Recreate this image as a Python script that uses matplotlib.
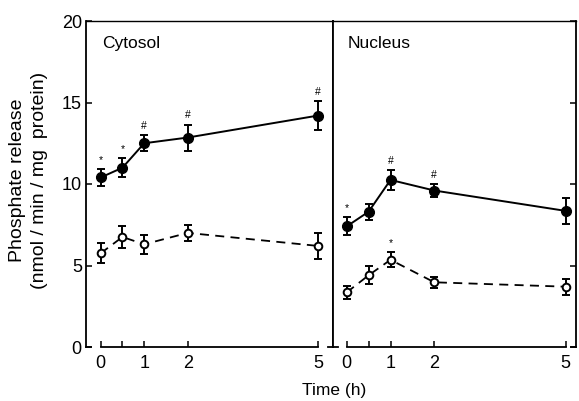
import matplotlib
matplotlib.use("Agg")
import matplotlib.pyplot as plt
from matplotlib.lines import Line2D

plt.rcParams['font.family'] = ['Liberation Sans', 'DejaVu Sans']

time_h = [0, 0.5, 1, 2, 5]
xtick_vals = [0, 0.5, 1, 2, 5]
xtick_labels = ["0", "", "1", "2", "5"]
ytick_vals = [0, 5, 10, 15, 20]

cyto_filled = [10.4, 11.0, 12.5, 12.85, 14.2]
cyto_filled_err = [0.5, 0.6, 0.5, 0.8, 0.9]
cyto_open = [5.75, 6.75, 6.3, 7.0, 6.2]
cyto_open_err = [0.6, 0.7, 0.6, 0.5, 0.8]

nuc_filled = [7.4, 8.3, 10.25, 9.6, 8.35]
nuc_filled_err = [0.55, 0.5, 0.6, 0.4, 0.8]
nuc_open = [3.35, 4.4, 5.35, 3.97, 3.7]
nuc_open_err = [0.4, 0.55, 0.45, 0.35, 0.5]

cyto_filled_marks = ["*", "*", "#", "#", "#"]
nuc_filled_marks = ["*", "", "#", "#", ""]
nuc_open_marks = ["", "", "*", "", ""]

W, H = 579, 401
fig = plt.figure(figsize=(W / 100, H / 100), dpi=100)
ax1 = fig.add_axes([86 / W, 54 / H, 247 / W, 326 / H])
ax2 = fig.add_axes([333 / W, 54 / H, 243 / W, 326 / H])

ax1.set_xlim(-0.338, 5.34)
ax2.set_xlim(-0.313, 5.235)

def draw(ax, filled, ferr, opn, oerr, fmarks, omarks):
    ax.errorbar(time_h, filled, yerr=ferr, fmt='-o', color='black', lw=1.4,
                ms=7, mfc='black', mec='black', elinewidth=1.4, capsize=3,
                capthick=1.4, zorder=3)
    ax.errorbar(time_h, opn, yerr=oerr, fmt='--o', color='black', lw=1.3,
                ms=5.5, mfc='white', mec='black', mew=1.4, elinewidth=1.4,
                capsize=3, capthick=1.4, dashes=(5, 3.5), zorder=3)
    for x, y, e, m in zip(time_h, filled, ferr, fmarks):
        if m:
            ax.annotate(m, (x, y + e), xytext=(0, 3), textcoords='offset points',
                        ha='center', va='bottom', fontsize=7.5)
    for x, y, e, m in zip(time_h, opn, oerr, omarks):
        if m:
            ax.annotate(m, (x, y + e), xytext=(0, 3), textcoords='offset points',
                        ha='center', va='bottom', fontsize=7.5)

draw(ax1, cyto_filled, cyto_filled_err, cyto_open, cyto_open_err,
     cyto_filled_marks, ["", "", "", "", ""])
draw(ax2, nuc_filled, nuc_filled_err, nuc_open, nuc_open_err,
     nuc_filled_marks, nuc_open_marks)

for ax in (ax1, ax2):
    ax.set_ylim(0, 20)
    for name, s in ax.spines.items():
        s.set_linewidth(1.0 if name == 'top' else 1.3)
    ax.spines['bottom'].set_bounds(0, 5)
    ax.set_xticks(xtick_vals)
    ax.set_xticklabels(xtick_labels)
    ax.tick_params(axis='x', direction='in', length=4, width=1.1,
                   labelsize=13, pad=6)
    # short feet at the bottom corners
    ax.add_line(Line2D([0, 0.02], [0, 0], transform=ax.transAxes,
                       color='black', lw=1.3, clip_on=False))
    ax.add_line(Line2D([0.98, 1.0], [0, 0], transform=ax.transAxes,
                       color='black', lw=1.3, clip_on=False))

ax1.set_yticks(ytick_vals)
ax1.tick_params(axis='y', direction='in', length=4, width=1.1,
                labelsize=13, pad=3, left=True, right=False)
ax2.set_yticks(ytick_vals)
ax2.tick_params(axis='y', direction='in', length=4, width=1.1,
                left=False, right=True, labelleft=False, labelright=False)

ax1.text(0.065, 0.93, "Cytosol", transform=ax1.transAxes, fontsize=12.5,
         ha='left', va='center')
ax2.text(0.06, 0.93, "Nucleus", transform=ax2.transAxes, fontsize=12.5,
         ha='left', va='center')

fig.text(18 / W, 1 - 180 / H, "Phosphate release", rotation=90, fontsize=14,
         ha='center', va='center')
fig.text(40 / W, 1 - 180 / H, "(nmol / min / mg  protein)", rotation=90,
         fontsize=14, ha='center', va='center')
fig.text(334 / W, 1 - 391 / H, "Time (h)", fontsize=12.5, ha='center',
         va='center')

fig.savefig("out.png", dpi=100)
